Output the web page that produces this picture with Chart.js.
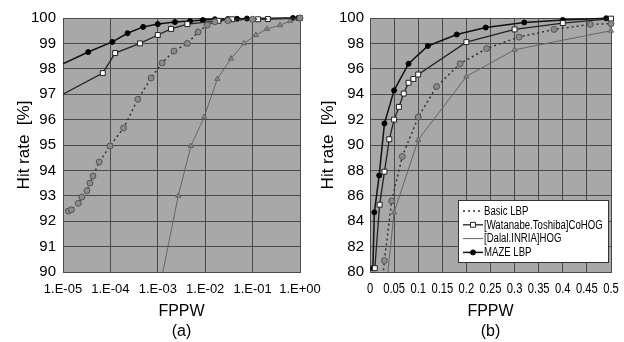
<!DOCTYPE html>
<html>
<head>
<meta charset="utf-8">
<script src="https://cdn.jsdelivr.net/npm/chart.js@4.4.1/dist/chart.umd.min.js"></script>
<style>
  body { margin: 0; background: #fff; }
  #wrap { position: relative; width: 624px; height: 342px; overflow: hidden; background: #fff; }
  #chartA { position: absolute; left: 0; top: 0; }
  #chartB { position: absolute; left: 312px; top: 0; }
</style>
</head>
<body>
<div id="wrap">
  <canvas id="chartA" width="342" height="342"></canvas>
  <canvas id="chartB" width="312" height="342"></canvas>
</div>
<script>
// ---- panel (a): FPPW on a log axis ----
const xTicksA = [1e-5, 1e-4, 1e-3, 1e-2, 1e-1, 1];
const xLabelsA = ["1.E-05", "1.E-04", "1.E-03", "1.E-02", "1.E-01", "1.E+00"];

const basicXA = [1.3e-5, 1.5e-5, 2.1e-5, 2.5e-5, 3.2e-5, 3.7e-5, 4.3e-5, 5.8e-5, 9.8e-5, 1.9e-4, 3.8e-4, 7.2e-4, 1.23e-3, 2.2e-3, 4.2e-3, 7.1e-3, 1.1e-2, 1.6e-2, 3e-2, 0.1, 1];
const basicYA = [92.4, 92.45, 92.7, 92.95, 93.2, 93.5, 93.78, 94.33, 94.96, 95.67, 96.8, 97.64, 98.23, 98.7, 99.0, 99.45, 99.72, 99.85, 99.9, 99.95, 100];

const cohogXA = [1e-5, 6.9e-5, 1.26e-4, 4.2e-4, 1e-3, 1.9e-3, 4.2e-3, 1.9e-2, 3.7e-2, 0.13, 0.21, 1];
const cohogYA = [97.0, 97.83, 98.62, 99.0, 99.33, 99.57, 99.76, 99.89, 99.95, 99.95, 99.96, 100];

const hogXA = [1e-3, 2.7e-3, 5e-3, 9.5e-3, 1.8e-2, 3.5e-2, 6.6e-2, 0.117, 0.2, 0.38, 0.62, 1];
const hogYA = [89.0, 93.0, 94.96, 96.1, 97.6, 98.4, 99.0, 99.33, 99.57, 99.72, 99.88, 100];

const mazeXA = [1e-5, 3.4e-5, 1.1e-4, 2.3e-4, 4.9e-4, 1e-3, 2.3e-3, 4.8e-3, 8.9e-3, 1.6e-2, 3e-2, 4.7e-2, 7.6e-2, 0.71, 0.91];
const mazeYA = [98.2, 98.66, 99.06, 99.4, 99.65, 99.76, 99.84, 99.88, 99.92, 99.95, 99.96, 99.97, 99.98, 100, 100];

// ---- panel (b): FPPW on a linear axis ----
const xTicksB = [0, 0.05, 0.1, 0.15, 0.2, 0.25, 0.3, 0.35, 0.4, 0.45, 0.5];
const xLabelsB = ["0", "0.05", "0.1", "0.15", "0.2", "0.25", "0.3", "0.35", "0.4", "0.45", "0.5"];

const basicXB = [0.02, 0.03, 0.045, 0.067, 0.1, 0.138, 0.187, 0.242, 0.309, 0.382, 0.457, 0.5];
const basicYB = [77.0, 80.9, 85.6, 89.1, 92.2, 94.6, 96.4, 97.6, 98.5, 99.1, 99.5, 99.55];

const cohogXB = [0.01, 0.02, 0.03, 0.04, 0.05, 0.06, 0.07, 0.08, 0.09, 0.1, 0.2, 0.3, 0.4, 0.5];
const cohogYB = [80.3, 85.3, 87.9, 90.45, 92.0, 93.0, 94.05, 94.9, 95.2, 95.55, 98.1, 99.1, 99.6, 99.95];

const hogXB = [0.03, 0.05, 0.1, 0.2, 0.3, 0.5];
const hogYB = [77.4, 84.7, 90.4, 95.4, 97.5, 99.0];

const mazeXB = [0.006, 0.009, 0.019, 0.03, 0.05, 0.08, 0.12, 0.18, 0.24, 0.32, 0.4, 0.49];
const mazeYB = [80.3, 84.7, 87.6, 91.7, 94.3, 96.4, 97.8, 98.7, 99.25, 99.65, 99.85, 99.98];

const seriesNames = ["Basic LBP", "[Watanabe.Toshiba]CoHOG", "[Dalal.INRIA]HOG", "MAZE LBP"];

Chart.defaults.font.family = "'Liberation Sans', Arial, sans-serif";
Chart.defaults.color = "#000";

const GRID = "#4a4a4a";
const PLOT_BG = "#a8a8a8";
const FONT = "'Liberation Sans', Arial, sans-serif";

function pts(xs, ys) {
    return xs.map((x, i) => ({x: x, y: ys[i]}));
}

const styles = [
    {borderColor: "#333", borderWidth: 1.5, borderDash: [2, 3], pointStyle: "circle", pointRadius: 3,
        pointBackgroundColor: "#8a8a8a", pointBorderColor: "#555"},
    {borderColor: "#222", borderWidth: 1.3, borderDash: [], pointStyle: "rect", pointRadius: 3.5,
        pointBackgroundColor: "#fff", pointBorderColor: "#222"},
    {borderColor: "#666", borderWidth: 1, borderDash: [], pointStyle: "triangle", pointRadius: 3,
        pointBackgroundColor: "#888", pointBorderColor: "#666"},
    {borderColor: "#111", borderWidth: 1.5, borderDash: [], pointStyle: "circle", pointRadius: 2.5,
        pointBackgroundColor: "#000", pointBorderColor: "#000"}
];

function makeDatasets(list, hideFirst) {
    return list.map((d, i) => Object.assign({
        label: seriesNames[i],
        data: d,
        fill: false,
        tension: 0,
        pointBorderWidth: 1,
        clip: {left: 0, top: 6, right: 6, bottom: 0}
    }, styles[i], hideFirst[i] ? {pointRadius: c => c.dataIndex === 0 ? 0 : styles[i].pointRadius} : {}));
}

const plotBg = {
    id: "plotBg",
    beforeDraw(chart) {
        const a = chart.chartArea;
        const ctx = chart.ctx;
        ctx.save();
        ctx.fillStyle = PLOT_BG;
        ctx.fillRect(a.left, a.top, a.right - a.left, a.bottom - a.top);
        ctx.restore();
    }
};

// squeezed text, the original uses a condensed face
function narrowText(ctx, text, x, y, size, squeeze, align, baseline) {
    ctx.save();
    ctx.translate(x, y);
    ctx.scale(squeeze, 1);
    ctx.font = size + "px " + FONT;
    ctx.textAlign = align;
    ctx.textBaseline = baseline;
    ctx.fillStyle = "#000";
    ctx.fillText(text, 0, 0);
    ctx.restore();
}

const narrowTicks = {
    id: "narrowTicks",
    afterDraw(chart) {
        const s = chart.scales.x;
        xTicksB.forEach((v, i) => {
            narrowText(chart.ctx, xLabelsB[i], s.getPixelForValue(v), s.top + 10, 14, 0.8, "center", "top");
        });
    }
};

function drawMarker(ctx, s, x, y) {
    ctx.save();
    ctx.fillStyle = s.pointBackgroundColor;
    ctx.strokeStyle = s.pointBorderColor;
    ctx.lineWidth = 1;
    ctx.setLineDash([]);
    ctx.beginPath();
    const r = s.pointRadius;
    if (s.pointStyle === "rect") {
        const h = r * Math.SQRT1_2;
        ctx.rect(x - h, y - h, 2 * h, 2 * h);
    } else if (s.pointStyle === "triangle") {
        ctx.moveTo(x, y - r);
        ctx.lineTo(x + r * 0.87, y + r * 0.5);
        ctx.lineTo(x - r * 0.87, y + r * 0.5);
        ctx.closePath();
    } else {
        ctx.arc(x, y, r, 0, Math.PI * 2);
    }
    ctx.fill();
    ctx.stroke();
    ctx.restore();
}

const boxLegend = {
    id: "boxLegend",
    afterDraw(chart) {
        const ctx = chart.ctx;
        const left = 146, top = 200, w = 150, h = 62;
        ctx.save();
        ctx.fillStyle = "#fff";
        ctx.fillRect(left, top, w, h);
        ctx.strokeStyle = "#333";
        ctx.lineWidth = 1;
        ctx.strokeRect(left + 0.5, top + 0.5, w, h);
        chart.data.datasets.forEach((ds, i) => {
            const y = top + 11 + i * 13.8;
            ctx.strokeStyle = ds.borderColor;
            ctx.lineWidth = ds.borderWidth;
            ctx.setLineDash(ds.borderDash || []);
            ctx.beginPath();
            ctx.moveTo(left + 5, y);
            ctx.lineTo(left + 25, y);
            ctx.stroke();
            drawMarker(ctx, ds, left + 15, y);
            narrowText(ctx, ds.label, left + 26, y + 0.5, 12, 0.8, "left", "middle");
        });
        ctx.restore();
    }
};

function axisOptions(cfg) {
    return {
        x: {
            type: cfg.xType,
            min: cfg.xTicks[0],
            max: cfg.xTicks[cfg.xTicks.length - 1],
            afterBuildTicks: s => { s.ticks = cfg.xTicks.map(v => ({value: v})); },
            afterFit: s => { s.height = 70; s.paddingLeft = 0; s.paddingRight = 0; },
            grid: {color: GRID, lineWidth: 1, drawTicks: false},
            border: {display: true, color: GRID},
            ticks: {
                display: cfg.xTickDisplay,
                autoSkip: false, maxRotation: 0, minRotation: 0, padding: 10,
                font: {size: 13},
                callback: (v, i) => cfg.xLabels[i]
            },
            title: {
                display: true, text: ["FPPW", cfg.tag],
                font: {size: 16, lineHeight: 1.25},
                padding: {top: 0, bottom: 0}
            }
        },
        y: {
            min: cfg.yMin, max: 100,
            afterFit: s => { s.width = cfg.yWidth; },
            grid: {color: GRID, lineWidth: 1, drawTicks: false},
            border: {display: true, color: GRID},
            ticks: {stepSize: cfg.yStep, padding: cfg.yPad, font: {size: 15}},
            title: {
                display: true, text: "Hit rate  [%]",
                font: {size: 17, lineHeight: 1.2},
                padding: {top: cfg.titlePad, bottom: 0}
            }
        }
    };
}

const commonOpts = {
    responsive: false,
    animation: false,
    devicePixelRatio: 1,
    plugins: {legend: {display: false}, tooltip: {enabled: false}}
};

new Chart(document.getElementById("chartA"), {
    type: "line",
    data: {
        datasets: makeDatasets([
            pts(basicXA, basicYA), pts(cohogXA, cohogYA), pts(hogXA, hogYA), pts(mazeXA, mazeYA)
        ], [false, true, true, true])
    },
    options: Object.assign({}, commonOpts, {
        layout: {padding: {left: 0, right: 42, top: 18, bottom: 0}},
        scales: axisOptions({
            xType: "logarithmic", xTicks: xTicksA, xLabels: xLabelsA, xTickDisplay: true,
            tag: "(a)", yMin: 90, yStep: 1, yWidth: 63, yPad: 7, titlePad: 14
        })
    }),
    plugins: [plotBg]
});

new Chart(document.getElementById("chartB"), {
    type: "line",
    data: {
        datasets: makeDatasets([
            pts(basicXB, basicYB), pts(cohogXB, cohogYB), pts(hogXB, hogYB), pts(mazeXB, mazeYB)
        ], [true, false, true, false])
    },
    options: Object.assign({}, commonOpts, {
        layout: {padding: {left: 0, right: 13, top: 18, bottom: 0}},
        scales: axisOptions({
            xType: "linear", xTicks: xTicksB, xLabels: xLabelsB, xTickDisplay: false,
            tag: "(b)", yMin: 80, yStep: 2, yWidth: 58, yPad: 6, titlePad: 6
        })
    }),
    plugins: [plotBg, narrowTicks, boxLegend]
});
</script>
</body>
</html>
